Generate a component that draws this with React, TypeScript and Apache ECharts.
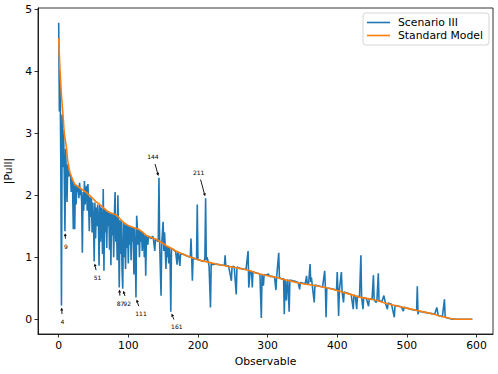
import React, { useEffect, useRef } from "react";
import * as echarts from "echarts";

const seriesNames = ["Scenario III", "Standard Model"];
const xTicks = [0, 100, 200, 300, 400, 500, 600];
const yTicks = [0, 1, 2, 3, 4, 5];

const standardModel: [number, number][] = [
  [0, 4.53], [1, 4.25], [2, 4.0], [4, 3.6], [6, 3.33], [8, 3.0], [10, 2.85], [11, 2.78], [13, 2.55],
  [16, 2.37], [20, 2.25], [23, 2.18], [30, 2.12], [40, 2.04], [47, 1.97], [53, 1.9], [58, 1.86],
  [64, 1.8], [70, 1.74], [76, 1.71], [83, 1.68], [88, 1.62], [93, 1.56], [100, 1.51], [107, 1.48],
  [115, 1.45], [121, 1.4], [126, 1.35], [130, 1.33], [140, 1.29], [150, 1.22], [155, 1.18], [159, 1.16],
  [165, 1.12], [170, 1.09], [178, 1.05], [185, 1.02], [192, 0.99], [200, 0.96], [207, 0.94], [215, 0.92],
  [226, 0.89], [235, 0.87], [245, 0.85], [260, 0.82], [275, 0.78], [282, 0.75], [289, 0.73], [297, 0.71],
  [305, 0.69], [314, 0.67], [322, 0.645], [335, 0.61], [346, 0.58], [358, 0.56], [370, 0.54], [383, 0.51],
  [395, 0.48], [407, 0.44], [419, 0.4], [430, 0.36], [440, 0.34], [450, 0.32], [457, 0.3], [466, 0.27],
  [475, 0.24], [483, 0.22], [491, 0.2], [503, 0.17], [515, 0.14], [527, 0.11], [539, 0.08], [547, 0.05],
  [555, 0.03], [563, 0.01], [570, 0.0], [594, 0.0],
];

const scenario3: [number, number][] = [
  [0, 4.78], [1, 3.35], [2, 4.0], [3, 2.6], [4, 0.22], [5, 3.3], [6, 2.45], [7, 3.05], [8, 2.35], [9, 1.42],
  [10, 2.75], [11, 2.3], [12, 1.89], [13, 2.5], [14, 2.3], [15, 2.4], [16, 2.31], [17, 2.33], [18, 2.05],
  [19, 2.28], [20, 2.1], [21, 1.45], [22, 2.2], [23, 1.45], [24, 2.15], [25, 1.85], [26, 2.15], [27, 2.05],
  [28, 2.13], [29, 1.95], [30, 2.2], [31, 2.0], [32, 2.1], [33, 1.9], [34, 1.07], [35, 2.05], [36, 1.75],
  [37, 2.23], [38, 1.85], [39, 2.05], [40, 2.15], [41, 1.75], [42, 2.18], [43, 1.85], [44, 1.42], [45, 1.97],
  [46, 1.65], [47, 1.95], [48, 1.4], [49, 1.88], [50, 1.55], [51, 0.93], [52, 1.88], [53, 1.3], [54, 1.8],
  [55, 1.5], [56, 1.85], [57, 1.6], [58, 0.86], [59, 1.84], [60, 1.25], [61, 1.8], [62, 1.55], [63, 1.05],
  [64, 2.1], [65, 0.78], [66, 1.78], [67, 1.4], [68, 1.76], [69, 1.15], [70, 1.74], [71, 1.5], [72, 1.72],
  [73, 1.12], [74, 1.71], [75, 0.87], [76, 1.7], [77, 1.35], [78, 1.7], [79, 1.0], [80, 1.68], [81, 2.05],
  [82, 1.25], [83, 1.66], [84, 0.95], [85, 2.0], [86, 1.3], [87, 0.51], [88, 1.6], [89, 1.05], [90, 1.58],
  [91, 0.8], [92, 0.49], [93, 1.55], [94, 1.0], [95, 1.53], [96, 0.81], [97, 1.52], [98, 1.15], [99, 1.51],
  [100, 0.9], [101, 1.5], [102, 1.2], [103, 1.49], [104, 0.95], [105, 1.48], [106, 1.25], [107, 1.48],
  [108, 0.72], [109, 1.47], [110, 1.1], [111, 0.35], [112, 1.67], [113, 1.45], [114, 1.2], [115, 1.45],
  [116, 1.0], [117, 1.43], [118, 1.25], [119, 1.41], [120, 1.1], [121, 1.4], [122, 1.3], [123, 1.0],
  [124, 1.36], [125, 0.7], [126, 1.35], [128, 1.2], [129, 1.34], [131, 1.32], [133, 1.3], [135, 1.34],
  [136, 1.3], [138, 1.1], [139, 1.29], [141, 1.27], [143, 1.25], [144, 2.28], [145, 1.24], [147, 0.38],
  [148, 1.22], [150, 1.57], [151, 1.1], [152, 1.4], [153, 1.15], [154, 0.81], [155, 1.18], [156, 1.0],
  [157, 1.17], [158, 0.9], [159, 1.16], [160, 0.95], [161, 0.12], [162, 1.14], [164, 1.13], [166, 1.11],
  [168, 1.09], [170, 0.88], [171, 1.08], [172, 1.06], [174, 0.86], [175, 1.05], [178, 1.05], [182, 1.03],
  [186, 1.01], [189, 1.0], [190, 1.3], [191, 0.99], [192, 0.62], [193, 0.99], [196, 0.97], [198, 0.97],
  [199, 1.85], [200, 0.96], [203, 0.95], [206, 0.94], [209, 0.93], [210, 1.0], [211, 1.95], [212, 0.95],
  [213, 1.0], [215, 0.92], [216, 0.85], [218, 0.19], [219, 0.9], [221, 0.88], [225, 0.89], [230, 0.88],
  [235, 0.87], [238, 0.87], [239, 1.03], [240, 0.86], [244, 0.86], [248, 0.62], [249, 0.85], [252, 0.85],
  [255, 0.4], [256, 0.84], [260, 0.82], [265, 0.81], [269, 0.8], [272, 1.1], [273, 0.51], [275, 0.78],
  [277, 0.77], [278, 0.51], [279, 0.77], [282, 0.75], [286, 0.74], [289, 0.73], [291, 0.02], [292, 0.72],
  [294, 0.54], [295, 0.72], [298, 0.71], [301, 0.73], [303, 0.69], [307, 0.69], [310, 0.68], [312, 0.47],
  [313, 0.68], [316, 1.07], [317, 0.67], [320, 0.65], [323, 0.65], [324, 0.08], [325, 0.64], [327, 0.3],
  [328, 0.6], [329, 0.64], [331, 0.12], [332, 0.63], [336, 0.62], [340, 0.61], [344, 0.59], [346, 0.48],
  [347, 0.59], [351, 0.58], [354, 0.57], [356, 0.7], [357, 0.56], [359, 0.58], [361, 0.89], [362, 0.6],
  [363, 0.67], [364, 0.56], [367, 0.27], [368, 0.55], [372, 0.54], [375, 0.53], [379, 0.52], [382, 0.78],
  [383, 0.51], [384, 0.03], [385, 0.5], [388, 0.5], [392, 0.49], [396, 0.48], [399, 0.47], [400, 0.76],
  [401, 0.47], [402, 0.05], [403, 0.46], [406, 0.76], [407, 0.45], [409, 0.27], [410, 0.44], [415, 0.42],
  [420, 0.4], [423, 0.16], [424, 0.39], [426, 0.38], [428, 0.16], [429, 0.37], [432, 0.36], [434, 1.03],
  [435, 0.36], [437, 0.16], [438, 0.35], [442, 0.33], [445, 0.21], [446, 0.33], [450, 0.32], [452, 0.71],
  [453, 0.31], [456, 0.27], [457, 0.3], [459, 0.74], [460, 0.3], [464, 0.28], [467, 0.38], [469, 0.27],
  [472, 0.16], [473, 0.26], [478, 0.24], [482, 0.03], [483, 0.22], [488, 0.21], [492, 0.2], [495, 0.13],
  [496, 0.19], [500, 0.18], [505, 0.16], [510, 0.15], [514, 0.14], [515, 0.53], [516, 0.08], [517, 0.13],
  [521, 0.12], [526, 0.11], [531, 0.1], [536, 0.09], [540, 0.08], [543, 0.19], [545, 0.06], [548, 0.05],
  [551, 0.04], [554, 0.32], [555, 0.03], [558, 0.02], [561, 0.01], [566, 0.0], [594, 0.0],
];

// annotated observables (index into scenario III) and text offsets in pixels
const annotatedIdx = [4, 9, 51, 87, 92, 111, 161, 144, 211];
const annotatedDx = [1, 1, 3.4, 1.2, 4.4, 5, 6, -6, -7];
const annotatedDy = [16, 15, 16, 15.6, 14.4, 15.7, 14.7, -21, -26];

const FONT = "DejaVu Sans";

export default function App() {
  const ref = useRef<HTMLDivElement>(null);
  useEffect(() => {
    if (!ref.current) return;
    const chart = echarts.init(ref.current, null, { renderer: "svg" });
    const axisCommon = {
      axisLine: { show: true, onZero: false, lineStyle: { color: "#000", width: 0.8 } },
      axisTick: { show: true, length: 3.5, lineStyle: { color: "#000", width: 0.8 } },
      splitLine: { show: false },
      nameTextStyle: { color: "#000", fontSize: 10.8, fontFamily: FONT },
    };
    chart.setOption({
      animation: false,
      backgroundColor: "#fff",
      grid: {
        left: 38, top: 8, right: 5, bottom: 40,
        show: true, borderColor: "#000", borderWidth: 0.8,
        containLabel: false, outerBoundsMode: "none",
      },
      legend: {
        left: 363,
        top: 13,
        orient: "vertical",
        padding: [4, 6, 4, 4],
        itemGap: 2,
        itemWidth: 23,
        itemHeight: 1.6,
        icon: "rect",
        backgroundColor: "rgba(255,255,255,0.8)",
        borderColor: "#cccccc",
        borderWidth: 0.8,
        borderRadius: 3,
        textStyle: { color: "#000", fontSize: 10.8, fontFamily: FONT, padding: [0, 0, 0, 3] },
        data: seriesNames,
      },
      xAxis: {
        type: "value",
        min: -29.7,
        max: 623.7,
        name: "Observable",
        nameLocation: "middle",
        nameGap: 17,
        ...axisCommon,
        axisTick: { ...axisCommon.axisTick, customValues: xTicks },
        axisLabel: { color: "#000", fontSize: 10.8, fontFamily: FONT, margin: 6, customValues: xTicks },
      },
      yAxis: {
        type: "value",
        min: -0.239,
        max: 5.019,
        name: "|Pull|",
        nameLocation: "middle",
        nameRotate: 90,
        nameGap: 15,
        ...axisCommon,
        axisTick: { ...axisCommon.axisTick, customValues: yTicks },
        axisLabel: { color: "#000", fontSize: 10.8, fontFamily: FONT, margin: 6, customValues: yTicks },
      },
      series: [
        {
          name: seriesNames[0],
          type: "line",
          data: scenario3,
          showSymbol: false,
          symbol: "none",
          lineStyle: { color: "#1f77b4", width: 1.6 },
          itemStyle: { color: "#1f77b4" },
        },
        {
          name: seriesNames[1],
          type: "line",
          data: standardModel,
          showSymbol: false,
          symbol: "none",
          lineStyle: { color: "#ff7f0e", width: 1.6 },
          itemStyle: { color: "#ff7f0e" },
        },
      ],
    });

    const graphics: any[] = [];
    annotatedIdx.forEach((idx, k) => {
      const pt = scenario3.find((d) => d[0] === idx);
      if (!pt) return;
      const p = chart.convertToPixel({ seriesIndex: 0 }, pt) as number[];
      const dx = annotatedDx[k];
      const dy = annotatedDy[k];
      const len = Math.sqrt(dx * dx + dy * dy);
      const ux = dx / len;
      const uy = dy / len;
      const tx = p[0] + dx;
      const ty = p[1] + dy;
      const tailX = tx - ux * 7.5;
      const tailY = ty - uy * 7.5;
      const tipX = p[0] + ux * 2;
      const tipY = p[1] + uy * 2;
      const headLen = 3;
      const headW = 1.5;
      const bx = tipX + ux * headLen;
      const by = tipY + uy * headLen;
      graphics.push({
        type: "line",
        shape: { x1: tailX, y1: tailY, x2: bx, y2: by },
        style: { stroke: "#000", lineWidth: 0.9 },
        silent: true,
      });
      graphics.push({
        type: "polygon",
        shape: {
          points: [
            [tipX, tipY],
            [bx - uy * headW, by + ux * headW],
            [bx + uy * headW, by - ux * headW],
          ],
        },
        style: { fill: "#000" },
        silent: true,
      });
      graphics.push({
        type: "text",
        x: tx,
        y: ty,
        style: {
          text: String(idx),
          fill: "#000",
          fontSize: 6,
          fontFamily: FONT,
          align: "center",
          verticalAlign: "middle",
        },
        silent: true,
      });
    });
    chart.setOption({ graphic: graphics });

    return () => chart.dispose();
  }, []);
  return <div ref={ref} style={{ position: "fixed", left: 0, top: 0, width: 498, height: 374 }} />;
}
